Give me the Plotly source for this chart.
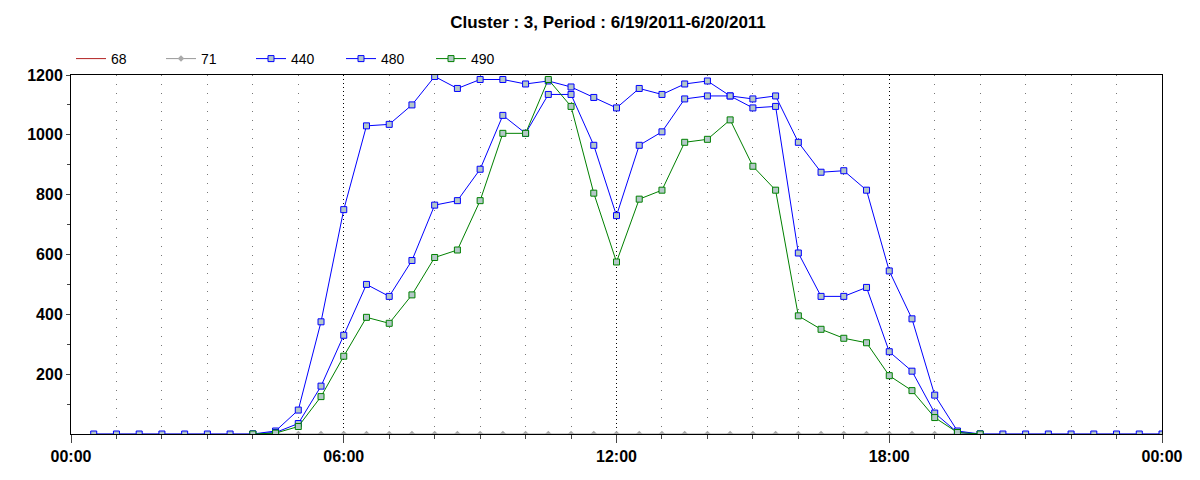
import plotly.graph_objects as go
import pandas as pd

times = [t.strftime("%Y-%m-%d %H:%M") for t in pd.date_range("2011-06-19 00:30", "2011-06-20 00:00", freq="30min")]
t_mid = [t.strftime("%Y-%m-%d %H:%M") for t in pd.date_range("2011-06-19 04:00", "2011-06-19 20:00", freq="30min")]

s71 = [0] * len(times)
s440 = [0, 0, 0, 0, 0, 0, 0, 0, 10, 80, 375, 750, 1030, 1035, 1100, 1195, 1155, 1185, 1185, 1170,
        1180, 1160, 1125, 1090, 1155, 1135, 1170, 1180, 1130, 1120, 1130, 975, 875, 880, 815, 545,
        385, 130, 10, 0, 0, 0, 0, 0, 0, 0, 0, 0]
s480 = [0, 5, 35, 160, 330, 500, 460, 580, 765, 780, 885, 1065, 1005, 1135, 1135, 965, 730, 965,
        1010, 1120, 1130, 1130, 1090, 1095, 605, 460, 460, 490, 275, 210, 70, 5, 0]
s490 = [0, 3, 25, 125, 260, 390, 370, 465, 590, 615, 780, 1005, 1005, 1185, 1095, 805, 575, 785,
        815, 975, 985, 1050, 895, 815, 395, 350, 320, 305, 195, 145, 55, 5, 0]

fig = go.Figure()
fig.add_trace(go.Scatter(x=[times[0]], y=[None], name="68", mode="lines", line=dict(color="#b22222", width=1)))
fig.add_trace(go.Scatter(x=times, y=s71, name="71", mode="lines+markers",
                         line=dict(color="#999999", width=1), marker=dict(symbol="diamond", size=5, color="#aaaaaa")))
mk = dict(symbol="square", size=6, color="#b4c8c8")
fig.add_trace(go.Scatter(x=times, y=s440, name="440", mode="lines+markers", line=dict(color="#0000ff", width=1),
                         marker=dict(**mk, line=dict(color="#0000ff", width=1))))
fig.add_trace(go.Scatter(x=t_mid, y=s480, name="480", mode="lines+markers", line=dict(color="#0000ff", width=1),
                         marker=dict(**mk, line=dict(color="#0000ff", width=1))))
fig.add_trace(go.Scatter(x=t_mid, y=s490, name="490", mode="lines+markers", line=dict(color="#008000", width=1),
                         marker=dict(**mk, line=dict(color="#008000", width=1))))

fig.update_layout(
    width=1200, height=480, plot_bgcolor="white", paper_bgcolor="white",
    margin=dict(l=63, r=46, t=67, b=54),
    title=dict(text="<b>Cluster : 3, Period : 6/19/2011-6/20/2011</b>", x=0.5, y=0.97, xanchor="center",
               yanchor="middle", font=dict(family="Liberation Sans", size=17, color="black")),
    font=dict(family="Liberation Sans", size=14, color="black"),
    legend=dict(orientation="h", x=0.0, y=1.0, xanchor="left", yanchor="bottom", font=dict(size=14),
                bgcolor="rgba(0,0,0,0)", entrywidth=45, entrywidthmode="pixels"),
    showlegend=True,
)
fig.update_xaxes(type="date", range=["2011-06-19 00:00", "2011-06-20 00:00"], dtick=6 * 3600 * 1000,
                 tick0="2011-06-19 00:00", tickformat="%H:%M", showgrid=True, gridcolor="black",
                 griddash="1px,3px", gridwidth=1, showline=True, linecolor="black", mirror=True,
                 ticks="outside", ticklen=8, automargin=False,
                 tickfont=dict(size=16, family="Liberation Sans", weight="bold"),
                 minor=dict(dtick=3600 * 1000, showgrid=True, gridcolor="#777777", griddash="1px,8px",
                            ticks="outside", ticklen=4), zeroline=False)
fig.update_yaxes(range=[0, 1200], tickvals=[200, 400, 600, 800, 1000, 1200], showgrid=False,
                 showline=True, linecolor="black", mirror=True, automargin=False,
                 ticks="outside", ticklen=4, tickfont=dict(size=16, family="Liberation Sans", weight="bold"),
                 minor=dict(tickvals=[100, 300, 500, 700, 900, 1100], ticks="outside", ticklen=3),
                 zeroline=False)
fig.write_html("out.html")
